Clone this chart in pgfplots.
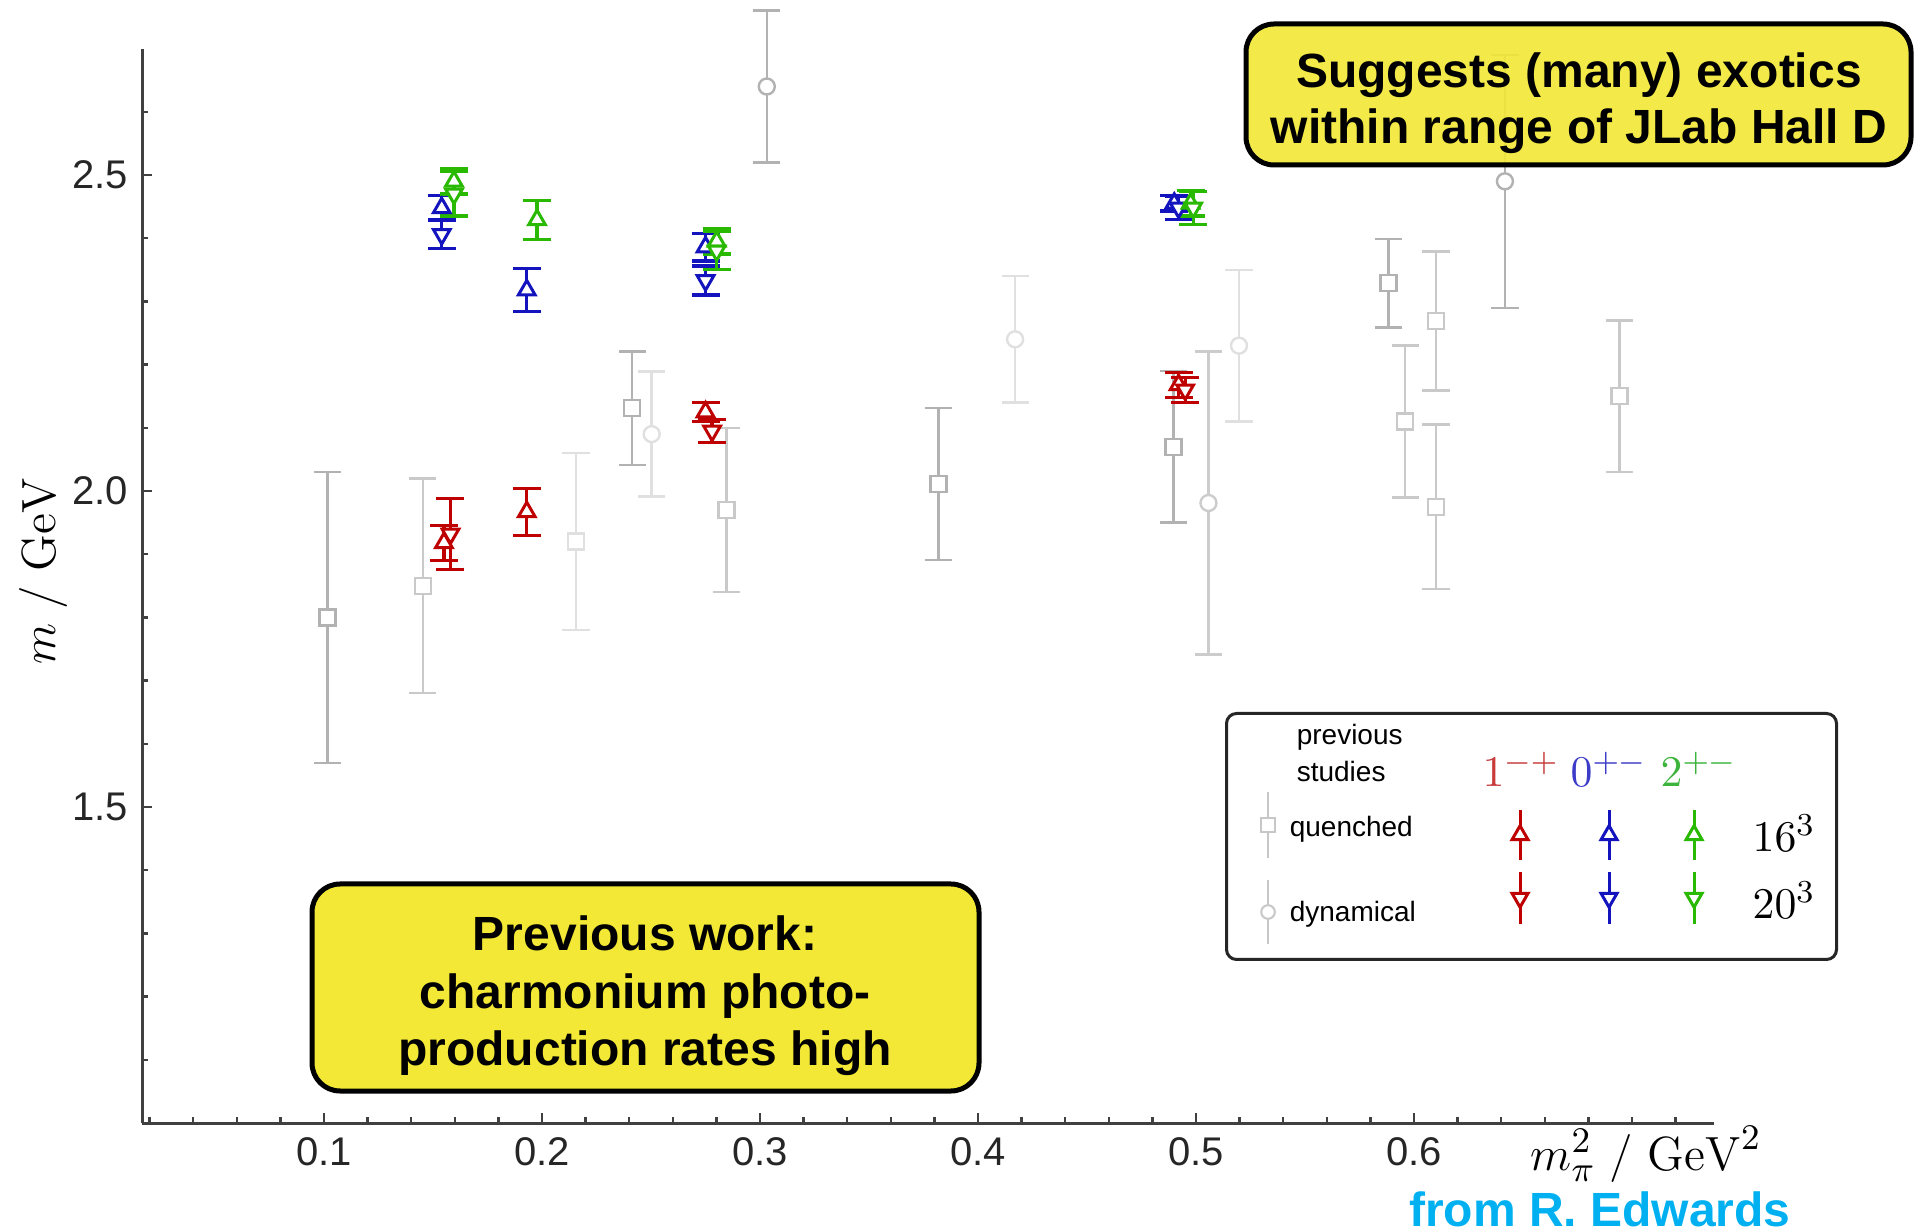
\documentclass[border=0pt]{standalone}
\usepackage[no-math]{fontspec}
\setmainfont{Liberation Sans}
\usepackage{pgfplots}
\pgfplotsset{compat=1.18}
\usepackage{pgfplotstable}

\definecolor{lqred}{RGB}{190,0,0}
\definecolor{lqblue}{RGB}{20,20,190}
\definecolor{lqgreen}{RGB}{40,185,0}
\definecolor{lblred}{RGB}{200,60,60}
\definecolor{lblblue}{RGB}{60,60,200}
\definecolor{lblgreen}{RGB}{60,180,60}
\definecolor{boxyellow}{RGB}{242,232,53}
\definecolor{edwards}{RGB}{0,176,240}

% previous studies: quenched (squares) and dynamical (circles), grouped by shade
\pgfplotstableread{
x y e
0.1015 1.800 0.230
0.2414 2.131 0.090
0.3818 2.011 0.120
0.4896 2.070 0.120
0.5882 2.329 0.070
}\quenchedA
\pgfplotstableread{
x y e
0.1453 1.850 0.170
0.2847 1.970 0.130
0.5959 2.110 0.120
0.6101 2.269 0.110
0.6101 1.975 0.130
0.6942 2.150 0.120
}\quenchedB
\pgfplotstableread{
x y e
0.2156 1.920 0.140
}\quenchedC
\pgfplotstableread{
x y e
0.3031 2.640 0.120
0.6417 2.490 0.200
}\dynamicalA
\pgfplotstableread{
x y e
0.5057 1.981 0.240
}\dynamicalB
\pgfplotstableread{
x y e
0.2503 2.090 0.099
0.4170 2.240 0.100
0.5197 2.230 0.120
}\dynamicalC

% exotic states on 16^3 (up) and 20^3 (down) lattices
\pgfplotstableread{
x y e
0.1550 1.918 0.028
0.1930 1.967 0.037
0.2750 2.125 0.015
0.4920 2.168 0.020
}\redS
\pgfplotstableread{
x y e
0.1580 1.932 0.056
0.2780 2.095 0.018
0.4950 2.160 0.020
}\redL
\pgfplotstableread{
x y e
0.1540 2.448 0.019
0.1930 2.318 0.034
0.2750 2.386 0.022
0.4900 2.455 0.012
}\blueS
\pgfplotstableread{
x y e
0.1540 2.406 0.022
0.2750 2.333 0.023
0.4920 2.448 0.018
}\blueL
\pgfplotstableread{
x y e
0.1596 2.490 0.020
0.1977 2.429 0.031
0.2801 2.395 0.020
0.4975 2.455 0.020
}\greenS
\pgfplotstableread{
x y e
0.1596 2.470 0.035
0.2801 2.380 0.030
0.4987 2.448 0.026
}\greenL

\pgfplotsset{
  prev/.style n args={2}{only marks, solid, mark=#2, mark size=2pt,
    mark options={solid, fill=white, draw=#1, line width=0.6pt},
    error bars/.cd, y dir=both, y explicit,
    error bar style={solid, line width=0.6pt, draw=#1},
    error mark options={solid, rotate=90, mark size=3.4pt, line width=0.6pt, draw=#1}},
  lat/.style n args={2}{only marks, solid, mark=triangle*, mark size=2.4pt,
    mark options={solid, fill=white, draw=#1, line width=0.75pt, rotate=#2},
    error bars/.cd, y dir=both, y explicit,
    error bar style={solid, line width=0.8pt, draw=#1},
    error mark options={solid, rotate=90, mark size=3.5pt, line width=0.8pt, draw=#1}},
  legprev/.style n args={2}{only marks, solid, mark=#2, mark size=1.7pt,
    mark options={solid, fill=white, draw=#1, line width=0.5pt},
    error bars/.cd, y dir=both, y explicit, error mark=none,
    error bar style={solid, line width=0.5pt, draw=#1}},
  leglat/.style n args={2}{only marks, solid, mark=triangle*, mark size=2.3pt,
    mark options={solid, fill=white, draw=#1, line width=0.75pt, rotate=#2},
    error bars/.cd, y dir=both, y explicit, error mark=none,
    error bar style={solid, line width=0.75pt, draw=#1}},
}

\begin{document}
\begin{tikzpicture}
\begin{axis}[
  at={(35.5pt,27pt)}, anchor=south west,
  x=545pt, y=158pt,
  xmin=0.0165, xmax=0.7375, ymin=1.0, ymax=2.70,
  axis x line=bottom, axis y line=left,
  axis line style={-, line width=0.75pt, draw=black!75},
  tick align=inside,
  major tick length=2.6pt, minor tick length=1.6pt,
  tick style={line width=0.6pt, draw=black!75},
  xtick={0.1,0.2,0.3,0.4,0.5,0.6},
  minor xtick={0.02,0.04,0.06,0.08,0.12,0.14,0.16,0.18,0.22,0.24,0.26,0.28,0.32,0.34,0.36,0.38,0.42,0.44,0.46,0.48,0.52,0.54,0.56,0.58,0.62,0.64,0.66,0.68,0.70,0.72},
  ytick={1.5,2.0,2.5},
  minor ytick={1.1,1.2,1.3,1.4,1.6,1.7,1.8,1.9,2.1,2.2,2.3,2.4,2.6},
  /pgf/number format/assume math mode=true,
  ticklabel style={font=\fontsize{10}{12}\selectfont, text=black!85},
  xticklabel style={/pgf/number format/fixed, /pgf/number format/precision=1},
  yticklabel style={/pgf/number format/fixed, /pgf/number format/fixed zerofill, /pgf/number format/precision=1},
  clip=false,
]
\addplot[prev={black!30}{square*}] table[x=x,y=y,y error=e] {\quenchedA};
\addplot[prev={black!21}{square*}] table[x=x,y=y,y error=e] {\quenchedB};
\addplot[prev={black!12}{square*}] table[x=x,y=y,y error=e] {\quenchedC};
\addplot[prev={black!30}{*}] table[x=x,y=y,y error=e] {\dynamicalA};
\addplot[prev={black!20}{*}] table[x=x,y=y,y error=e] {\dynamicalB};
\addplot[prev={black!12}{*}] table[x=x,y=y,y error=e] {\dynamicalC};

\addplot[lat={lqred}{0}] table[x=x,y=y,y error=e] {\redS};
\addplot[lat={lqred}{180}] table[x=x,y=y,y error=e] {\redL};
\addplot[lat={lqblue}{0}] table[x=x,y=y,y error=e] {\blueS};
\addplot[lat={lqblue}{180}] table[x=x,y=y,y error=e] {\blueL};
\addplot[lat={lqgreen}{0}] table[x=x,y=y,y error=e] {\greenS};
\addplot[lat={lqgreen}{180}] table[x=x,y=y,y error=e] {\greenL};
\end{axis}

% annotations, laid out in a 1915 x 1231 grid with the origin at the top left
\begin{scope}[x=0.25pt, y=-0.25pt, shift={(0pt,307.75pt)}]
  \node[rotate=90, font=\fontsize{12.5}{15}\selectfont] at (43,571) {$m\ /\ \mathrm{GeV}$};
  \node[anchor=base, inner sep=0pt, font=\fontsize{12.5}{15}\selectfont] at (1646,1170) {$m_\pi^2\ /\ \mathrm{GeV}^2$};
  \node[anchor=base, inner sep=0pt, font=\bfseries\fontsize{12}{14}\selectfont, text=edwards] at (1600,1226) {from R. Edwards};

  \draw[line width=1.25pt, rounded corners=7pt, fill=boxyellow, fill opacity=0.9] (1246,24) rectangle (1911,165);
  \node[font=\bfseries\fontsize{12}{14}\selectfont, align=center] at (1579,103) {Suggests (many) exotics\\within range of JLab Hall D};

  \draw[line width=1.25pt, rounded corners=7pt, fill=boxyellow] (312,884) rectangle (979,1091);
  \node[font=\bfseries\fontsize{12}{14.4}\selectfont, align=center] at (645,996) {Previous work:\\charmonium photo-\\production rates high};

  \draw[line width=0.75pt, rounded corners=2.5pt, draw=black!85, fill=white] (1226.5,713.5) rectangle (1836.5,959.5);
  \begin{scope}[every node/.style={anchor=west, inner sep=0pt, font=\fontsize{7}{8.4}\selectfont}]
    \node at (1296,737) {previous};
    \node at (1296,771) {studies};
    \node at (1289,829) {quenched};
    \node at (1289,914) {dynamical};
  \end{scope}
  \node[anchor=base, font=\fontsize{11}{13}\selectfont, text=lblred] at (1521,787) {$1^{-+}$};
  \node[anchor=base, font=\fontsize{11}{13}\selectfont, text=lblblue] at (1609,787) {$0^{+-}$};
  \node[anchor=base, font=\fontsize{11}{13}\selectfont, text=lblgreen] at (1699,787) {$2^{+-}$};
  \node[font=\fontsize{11}{13}\selectfont] at (1784,833) {$16^3$};
  \node[font=\fontsize{11}{13}\selectfont] at (1784,900) {$20^3$};
\end{scope}

% legend samples on the same 1915 x 1231 grid (y measured upwards)
\begin{axis}[at={(0pt,0pt)}, anchor=south west, x=0.25pt, y=0.25pt,
  xmin=0, xmax=1915, ymin=0, ymax=1231, hide axis, clip=false]
\addplot[legprev={black!22}{square*}] coordinates {(1268,406) +- (0,33)};
\addplot[legprev={black!22}{*}] coordinates {(1268,319) +- (0,32)};
\addplot[leglat={lqred}{0}] coordinates {(1520,396) +- (0,25)};
\addplot[leglat={lqblue}{0}] coordinates {(1609,396) +- (0,25)};
\addplot[leglat={lqgreen}{0}] coordinates {(1694,396) +- (0,25)};
\addplot[leglat={lqred}{180}] coordinates {(1520,333) +- (0,26)};
\addplot[leglat={lqblue}{180}] coordinates {(1609,333) +- (0,26)};
\addplot[leglat={lqgreen}{180}] coordinates {(1694,333) +- (0,26)};
\end{axis}

\pgfresetboundingbox
\useasboundingbox (0pt,0pt) rectangle (478.75pt,307.75pt);
\end{tikzpicture}
\end{document}
